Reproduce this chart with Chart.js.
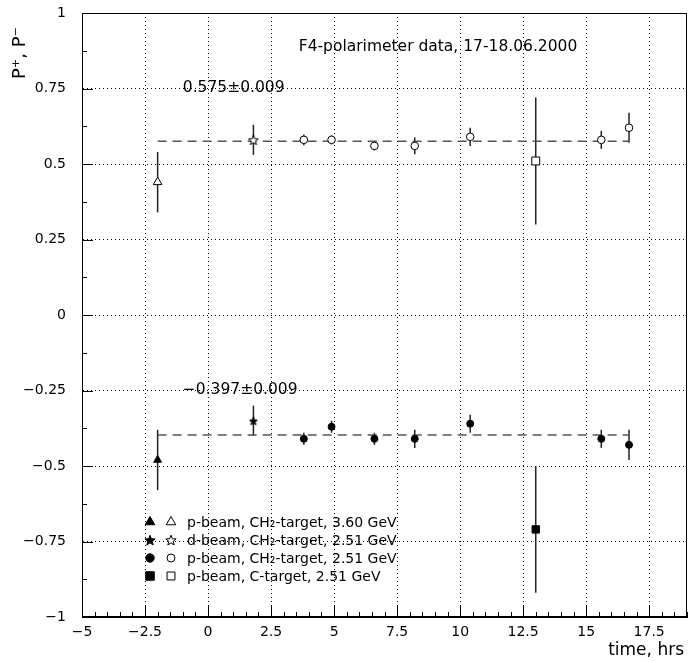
<!DOCTYPE html>
<html>
<head>
<meta charset="utf-8">
<script src="https://cdn.jsdelivr.net/npm/chart.js@4.4.0/dist/chart.umd.min.js"></script>
<style>
  html, body { margin: 0; padding: 0; background: #fff; }
  #wrap { width: 688px; height: 662px; }
</style>
</head>
<body>
<div id="wrap"><canvas id="chart" width="688" height="662"></canvas></div>
<script>
// ─── Axis ticks ───────────────────────────────────────────────────────────────

const xTicks = [-5, -2.5, 0, 2.5, 5, 7.5, 10, 12.5, 15, 17.5];
const xTickLabels = ["\u22125", "\u22122.5", "0", "2.5", "5", "7.5", "10", "12.5", "15", "17.5"];
const yTicks = [-1, -0.75, -0.5, -0.25, 0, 0.25, 0.5, 0.75, 1];
const yTickLabels = ["\u22121", "\u22120.75", "\u22120.5", "\u22120.25", "0", "0.25", "0.5", "0.75", "1"];

// ─── Data (time in hrs, polarisation P+ / P- with errors) ─────────────────────

// p-beam, CH2-target, 3.60 GeV
const t360 = [-2.0];
const plus360 = [0.44];
const minus360 = [-0.48];
const errPlus360 = [0.10];
const errMinus360 = [0.10];

// d-beam, CH2-target, 2.51 GeV
const tDeut = [1.8];
const plusDeut = [0.58];
const minusDeut = [-0.35];
const errPlusDeut = [0.05];
const errMinusDeut = [0.05];

// p-beam, CH2-target, 2.51 GeV
const tCH2 = [3.8, 4.9, 6.6, 8.2, 10.4, 15.6, 16.7];
const plusCH2 = [0.58, 0.58, 0.56, 0.56, 0.59, 0.58, 0.62];
const minusCH2 = [-0.41, -0.37, -0.41, -0.41, -0.36, -0.41, -0.43];
const errPlusCH2 = [0.018, 0.015, 0.015, 0.028, 0.03, 0.03, 0.05];
const errMinusCH2 = [0.02, 0.02, 0.02, 0.03, 0.03, 0.03, 0.05];

// p-beam, C-target, 2.51 GeV
const tCarbon = [13.0];
const plusCarbon = [0.51];
const minusCarbon = [-0.71];
const errPlusCarbon = [0.21];
const errMinusCarbon = [0.21];

// averages (dashed lines)
const fitRange = [-2.0, 16.7];
const meanPlus = 0.575;
const meanMinus = -0.397;
const meanErr = 0.009;
const meanLabelX = -1.0;
const meanLabelY = [0.74, -0.26];

const titleText = "F4-polarimeter data, 17-18.06.2000";
const legendRows = [
  "p-beam, CH\u2082-target, 3.60 GeV",
  "d-beam, CH\u2082-target, 2.51 GeV",
  "p-beam, CH\u2082-target, 2.51 GeV",
  "p-beam, C-target, 2.51 GeV",
];

// ─── Helpers ──────────────────────────────────────────────────────────────────

const FONT = "'DejaVu Sans', 'Liberation Sans', sans-serif";

function pts(xs, ys) {
  return xs.map((x, i) => ({ x, y: ys[i] }));
}

function fmtSigned(v) {
  return (v < 0 ? "\u2212" : "") + Math.abs(v).toFixed(3);
}

// five-pointed star as an image point style
function makeStar(outer, filled) {
  const c = document.createElement("canvas");
  const s = Math.ceil(outer * 2 + 3);
  c.width = s;
  c.height = s;
  const g = c.getContext("2d");
  g.beginPath();
  for (let i = 0; i < 10; i++) {
    const r = i % 2 ? outer * 0.42 : outer;
    const a = -Math.PI / 2 + (i * Math.PI) / 5;
    g.lineTo(s / 2 + r * Math.cos(a), s / 2 + 0.6 + r * Math.sin(a));
  }
  g.closePath();
  g.fillStyle = filled ? "#000" : "#fff";
  g.fill();
  g.lineWidth = 1;
  g.strokeStyle = "#000";
  g.stroke();
  return c;
}

const starOpen = makeStar(5.2, false);
const starFilled = makeStar(4.2, true);
const starOpenLeg = makeStar(5.4, false);
const starFilledLeg = makeStar(5.4, true);

function markerSet(style, radius, open) {
  return {
    pointStyle: style,
    pointRadius: radius,
    backgroundColor: open ? "#fff" : "#000",
    borderColor: "#000",
    borderWidth: 1,
  };
}

// ─── Plugins ──────────────────────────────────────────────────────────────────

const errorBars = {
  id: "errorBars",
  beforeDatasetsDraw(chart) {
    const { ctx, scales } = chart;
    ctx.save();
    ctx.strokeStyle = "#222";
    ctx.lineWidth = 1.5;
    chart.data.datasets.forEach((ds) => {
      if (!ds.errs) return;
      ds.data.forEach((p, j) => {
        const x = scales.x.getPixelForValue(p.x);
        ctx.beginPath();
        ctx.moveTo(x, scales.y.getPixelForValue(p.y + ds.errs[j]));
        ctx.lineTo(x, scales.y.getPixelForValue(p.y - ds.errs[j]));
        ctx.stroke();
      });
    });
    ctx.restore();
  },
};

const frameAndText = {
  id: "frameAndText",
  afterDraw(chart) {
    const { ctx, chartArea: a, scales } = chart;
    ctx.save();

    // frame
    ctx.strokeStyle = "#000";
    ctx.lineWidth = 1;
    ctx.strokeRect(a.left + 0.5, a.top + 0.5, a.right - a.left - 1, a.bottom - a.top - 1);

    // inward ticks, bottom and left
    ctx.beginPath();
    for (let v = -5; v <= 19.001; v += 0.5) {
      const x = Math.round(scales.x.getPixelForValue(v)) + 0.5;
      const len = Math.abs(v / 2.5 - Math.round(v / 2.5)) < 1e-6 ? 11 : 5;
      ctx.moveTo(x, a.bottom);
      ctx.lineTo(x, a.bottom - len);
    }
    for (let v = -1; v <= 1.001; v += 0.125) {
      const y = Math.round(scales.y.getPixelForValue(v)) + 0.5;
      const len = Math.abs(v / 0.25 - Math.round(v / 0.25)) < 1e-6 ? 11 : 5;
      ctx.moveTo(a.left, y);
      ctx.lineTo(a.left + len, y);
    }
    ctx.stroke();

    ctx.fillStyle = "#000";

    // title
    ctx.font = "15.5px " + FONT;
    ctx.textAlign = "center";
    ctx.textBaseline = "alphabetic";
    ctx.fillText(titleText, 438, 51);

    // averages
    ctx.font = "15.5px " + FONT;
    ctx.textAlign = "left";
    [meanPlus, meanMinus].forEach((m, i) => {
      ctx.fillText(
        fmtSigned(m) + "\u00b1" + meanErr.toFixed(3),
        scales.x.getPixelForValue(meanLabelX),
        scales.y.getPixelForValue(meanLabelY[i])
      );
    });

    // axis titles
    ctx.font = "17px " + FONT;
    ctx.textAlign = "right";
    ctx.fillText("time, hrs", 684, 655);

    ctx.save();
    ctx.translate(25, 53);
    ctx.rotate(-Math.PI / 2);
    ctx.font = "18px " + FONT;
    ctx.textAlign = "center";
    ctx.fillText("P\u207a, P\u207b", 0, 0);
    ctx.restore();

    // legend
    const legMarks = [
      ["triangle", "triangle", 5.5, 5.5],
      [starFilledLeg, starOpenLeg, 5, 5],
      ["circle", "circle", 4.2, 4],
      ["rect", "rect", 6, 5.6],
    ];
    ctx.font = "14px " + FONT;
    ctx.textAlign = "left";
    ctx.textBaseline = "middle";
    legendRows.forEach((txt, i) => {
      const y = 522 + i * 18;
      const [sf, so, rf, ro] = legMarks[i];
      ctx.lineWidth = 1;
      ctx.strokeStyle = "#000";
      ctx.fillStyle = "#000";
      Chart.helpers.drawPoint(ctx, { pointStyle: sf, radius: rf, rotation: 0, borderWidth: 1 }, 150, y);
      ctx.fillStyle = "#fff";
      Chart.helpers.drawPoint(ctx, { pointStyle: so, radius: ro, rotation: 0, borderWidth: 1 }, 171, y);
      ctx.fillStyle = "#000";
      ctx.fillText(txt, 187, y + 1);
    });

    ctx.restore();
  },
};

// ─── Chart ────────────────────────────────────────────────────────────────────

const fitLine = {
  type: "line",
  showLine: true,
  borderColor: "#555",
  borderWidth: 1.5,
  borderDash: [9, 6],
  pointRadius: 0,
  order: 10,
};

new Chart(document.getElementById("chart"), {
  type: "scatter",
  data: {
    datasets: [
      { ...fitLine, label: "mean P+", data: pts(fitRange, [meanPlus, meanPlus]) },
      { ...fitLine, label: "mean P-", data: pts(fitRange, [meanMinus, meanMinus]) },

      { label: "3.60 P+", data: pts(t360, plus360), errs: errPlus360, ...markerSet("triangle", 5, true) },
      { label: "3.60 P-", data: pts(t360, minus360), errs: errMinus360, ...markerSet("triangle", 4.6, false) },

      { label: "d P+", data: pts(tDeut, plusDeut), errs: errPlusDeut, ...markerSet(starOpen, 5, true) },
      { label: "d P-", data: pts(tDeut, minusDeut), errs: errMinusDeut, ...markerSet(starFilled, 4, false) },

      { label: "CH2 P+", data: pts(tCH2, plusCH2), errs: errPlusCH2, ...markerSet("circle", 3.8, true) },
      { label: "CH2 P-", data: pts(tCH2, minusCH2), errs: errMinusCH2, ...markerSet("circle", 3.5, false) },

      { label: "C P+", data: pts(tCarbon, plusCarbon), errs: errPlusCarbon, ...markerSet("rect", 5.6, true) },
      { label: "C P-", data: pts(tCarbon, minusCarbon), errs: errMinusCarbon, ...markerSet("rect", 5.2, false) },
    ],
  },
  options: {
    responsive: false,
    animation: false,
    layout: { autoPadding: false, padding: { top: 13, right: 1, left: 0, bottom: 0 } },
    plugins: { legend: { display: false }, tooltip: { enabled: false } },
    scales: {
      x: {
        type: "linear",
        min: -5,
        max: 19,
        afterBuildTicks: (s) => { s.ticks = xTicks.map((v) => ({ value: v })); },
        afterFit: (s) => { s.height = 45; s.paddingLeft = 0; s.paddingRight = 0; },
        grid: { color: "#000", lineWidth: 1, drawTicks: false },
        border: { display: true, color: "#000", width: 1, dash: [1, 3] },
        ticks: {
          padding: 7,
          color: "#000",
          font: { family: FONT, size: 14 },
          autoSkip: false,
          maxRotation: 0,
          callback: (v, i) => xTickLabels[i],
        },
      },
      y: {
        type: "linear",
        min: -1,
        max: 1,
        afterBuildTicks: (s) => { s.ticks = yTicks.map((v) => ({ value: v })); },
        afterFit: (s) => { s.width = 82; s.paddingTop = 0; s.paddingBottom = 0; },
        grid: { color: "#000", lineWidth: 1, drawTicks: false },
        border: { display: true, color: "#000", width: 1, dash: [1, 3] },
        ticks: {
          padding: 16,
          color: "#000",
          font: { family: FONT, size: 14 },
          autoSkip: false,
          callback: (v, i) => yTickLabels[i],
        },
      },
    },
  },
  plugins: [errorBars, frameAndText],
});
</script>
</body>
</html>
